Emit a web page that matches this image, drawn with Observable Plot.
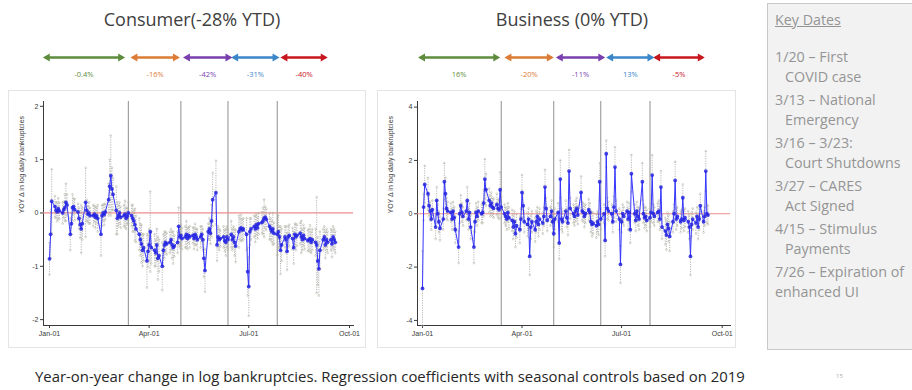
<!DOCTYPE html>
<html>
<head>
<meta charset="utf-8">
<script src="https://cdn.jsdelivr.net/npm/d3@7"></script>
<script src="https://cdn.jsdelivr.net/npm/@observablehq/plot@0.6"></script>
<style>
html,body{margin:0;padding:0;background:#fff;}
body{width:912px;height:390px;position:relative;overflow:hidden;font-family:"Open Sans",sans-serif;}
.abs{position:absolute;}
.title{font-size:18px;color:#404040;white-space:nowrap;transform:translateX(-50%);line-height:20px;}
.panel{background:#fff;box-shadow:inset 0 0 0 1px #e4e4e4;}
.key{left:767px;top:3px;width:170px;height:347px;background:#f2f2f2;border:1px solid #c9c9c9;box-sizing:border-box;padding:6px 0 0 7px;color:#959595;font-size:14.3px;line-height:20.5px;}
.key .hd{text-decoration:underline;margin-bottom:16px;}
.key .it{margin-bottom:2px;white-space:nowrap;}
.key .in{padding-left:10px;}
.caption{left:35px;top:366px;font-size:14.9px;color:#262626;white-space:nowrap;line-height:20px;}
.pg{left:836px;top:372px;font-size:6px;color:#aaa;}
</style>
</head>
<body>
<div class="abs title" style="left:192px;top:9px">Consumer(-28% YTD)</div>
<div class="abs title" style="left:572px;top:9px">Business (0% YTD)</div>
<div id="a1" class="abs" style="left:8px;top:45px"></div>
<div id="a2" class="abs" style="left:377px;top:45px"></div>
<div id="p1" class="abs panel" style="left:8px;top:90px;width:358px;height:258px"></div>
<div id="p2" class="abs panel" style="left:377px;top:90px;width:359px;height:258px"></div>
<div class="abs key">
  <div class="hd">Key Dates</div>
  <div class="it">1/20 – First<div class="in">COVID case</div></div>
  <div class="it">3/13 – National<div class="in">Emergency</div></div>
  <div class="it">3/16 – 3/23:<div class="in">Court Shutdowns</div></div>
  <div class="it">3/27 – CARES<div class="in">Act Signed</div></div>
  <div class="it">4/15 – Stimulus<div class="in">Payments</div></div>
  <div class="it">7/26 – Expiration of<div>enhanced UI</div></div>
</div>
<div class="abs caption">Year-on-year change in log bankruptcies. Regression coefficients with seasonal controls based on 2019</div>
<div class="abs pg">15</div>
<script>
// ---------- data (one value per weekday, Jan 1 2020 – Sep 18 2020) ----------
const consumerValues = [
  -0.86, -0.40, 0.22,
  0.12, 0.05, 0.02, 0.08, 0.04,
  0.00, 0.06, 0.10, 0.20, 0.15,
  -0.40, -0.20, 0.10, 0.12, 0.06,
  0.02, -0.10, -0.22, -0.30, -0.20,
  0.20, 0.05, -0.02, 0.00, -0.05,
  -0.05, -0.02, -0.08, -0.05, -0.10,
  -0.40, -0.05, 0.00, -0.03, 0.02,
  0.25, 0.50, 0.70, 0.45, 0.35,
  0.05, -0.10, -0.05, 0.00, -0.08,
  -0.05, -0.02, -0.10, -0.06, 0.00,
  -0.05, -0.10, -0.15, -0.22, -0.30,
  -0.40, -0.50, -0.58, -0.70, -0.65,
  -0.90, -0.72, -0.60, -0.35, -0.65,
  -0.70, -0.75, -0.60, -0.85, -0.80,
  -1.00, -0.70, -0.60, -0.55, -0.58,
  -0.55, -0.50, -0.60, -0.65, -0.62,
  -0.55, -0.25, -0.45, -0.42, -0.48,
  -0.45, -0.40, -0.48, -0.42, -0.45,
  -0.42, -0.48, -0.40, -0.45, -0.50,
  -0.45, -0.40, -0.50, -0.85, -1.08,
  -0.35, -0.30, -0.38, -0.15, 0.25,
  0.38, -0.60, -0.45, -0.50, -0.48,
  -0.45, -0.52, -0.55, -0.45, -0.50,
  -0.40, -0.50, -0.45, -0.55, -0.62,
  -0.35, -0.30, -0.28, -0.32, -0.30,
  -0.40, -1.10, -1.38, -0.35, -0.30,
  -0.25, -0.30, -0.22, -0.28, -0.20,
  -0.18, -0.15, -0.10, -0.08, -0.12,
  -0.25, -0.30, -0.35, -0.30, -0.38,
  -0.40, -0.35, -0.45, -0.70, -0.60,
  -0.45, -0.50, -0.72, -0.45, -0.42,
  -0.48, -0.65, -0.40, -0.45, -0.42,
  -0.38, -0.45, -0.50, -0.42, -0.48,
  -0.52, -0.50, -0.48, -0.55, -0.50,
  -0.55, -0.60, -0.90, -1.05, -0.70,
  -0.50, -0.45, -0.60, -0.50, -0.55,
  -0.50, -0.58, -0.45, -0.50, -0.55
];
const consumerErrors = [
  0.30, 0.45, 0.60,
  0.20, 0.15, 0.18, 0.20, 0.15,
  0.20, 0.15, 0.25, 0.35, 0.20,
  0.30, 0.20, 0.25, 0.15, 0.20,
  0.15, 0.20, 0.25, 0.45, 0.30,
  0.65, 0.20, 0.15, 0.20, 0.15,
  0.20, 0.15, 0.20, 0.15, 0.25,
  0.40, 0.20, 0.15, 0.20, 0.15,
  0.30, 0.50, 0.75, 0.40, 0.30,
  0.45, 0.30, 0.20, 0.20, 0.20,
  0.20, 0.25, 0.20, 0.15, 0.20,
  0.20, 0.25, 0.20, 0.30, 0.25,
  0.30, 0.30, 0.35, 0.30, 0.25,
  0.50, 0.30, 0.30, 0.75, 0.30,
  0.30, 0.25, 0.30, 0.40, 0.30,
  0.45, 0.30, 0.25, 0.20, 0.20,
  0.20, 0.20, 0.25, 0.30, 0.20,
  0.20, 0.35, 0.20, 0.20, 0.20,
  0.20, 0.25, 0.20, 0.15, 0.20,
  0.15, 0.20, 0.20, 0.15, 0.20,
  0.20, 0.15, 0.20, 0.35, 0.40,
  0.15, 0.20, 0.20, 0.30, 0.50,
  0.60, 0.30, 0.20, 0.20, 0.15,
  0.20, 0.20, 0.25, 0.20, 0.20,
  0.25, 0.20, 0.20, 0.25, 0.30,
  0.30, 0.20, 0.25, 0.20, 0.20,
  0.30, 0.45, 0.55, 0.25, 0.20,
  0.20, 0.25, 0.20, 0.20, 0.20,
  0.20, 0.25, 0.35, 0.20, 0.20,
  0.25, 0.20, 0.20, 0.30, 0.20,
  0.40, 0.30, 0.20, 0.45, 0.30,
  0.20, 0.25, 0.35, 0.20, 0.20,
  0.20, 0.30, 0.20, 0.25, 0.20,
  0.20, 0.30, 0.20, 0.20, 0.20,
  0.20, 0.20, 0.25, 0.20, 0.20,
  0.25, 0.90, 0.45, 0.50, 0.35,
  0.20, 0.20, 0.25, 0.20, 0.20,
  0.20, 0.25, 0.20, 0.20, 0.20
];
const businessValues = [
  -2.80, 0.25, 1.10,
  0.75, 0.30, 0.10, -0.20, 0.15,
  -0.50, 0.50, 0.00, -0.30, -0.55,
  -0.20, 1.20, 0.75, 0.20, 0.10,
  0.05, -0.20, 0.10, -0.15, -0.60,
  -1.25, 0.00, 0.30, 0.05, -0.10,
  0.10, 0.50, -0.20, 0.05, -0.50,
  -1.25, -0.30, 0.05, -0.10, 0.10,
  0.00, 0.05, 0.40, 1.30, 0.90,
  0.50, 0.30, 0.40, 0.25, 0.20,
  0.35, 0.20, 0.15, 0.90, 0.25,
  0.00, -0.10, -0.20, 0.05, -0.15,
  -0.25, -0.50, -0.30, -0.75, -0.45,
  -0.60, -0.20, 0.80, 0.30, -0.30,
  -0.40, -0.20, -1.60, -0.50, -0.30,
  -0.60, -0.30, -0.10, -0.40, -0.20,
  -0.35, -0.10, 1.00, 0.20, -0.25,
  -0.10, 0.10, -0.30, -0.75, -0.20,
  0.05, -1.10, 1.30, -0.20, -0.30,
  0.10, -0.15, -0.35, 1.60, 0.20,
  0.00, -0.10, 0.10, 0.20, -0.05,
  0.80, 0.10, 0.05, -0.10, 0.00,
  0.15, 0.05, -0.30, -0.40, -0.35,
  -0.45, -0.30, -0.40, 1.20, -0.20,
  0.00, -1.00, 2.25, 0.20, 0.10,
  0.00, -0.30, 0.25, 1.75, 0.10,
  -0.20, -1.90, -0.30, 0.00, -0.10,
  0.10, -0.20, 0.05, -0.60, 1.50,
  0.00, -0.25, 0.10, -0.10, -0.20,
  1.20, 0.00, -0.15, -0.10, -0.25,
  -0.15, 0.05, 1.45, 0.00, -0.10,
  0.05, 0.10, -0.20, 1.00, -0.50,
  -0.65, -0.80, -0.40, -0.55, -0.85,
  -0.30, 0.00, 1.25, -0.20, -0.10,
  -0.30, -0.20, 0.60, -0.25, -0.15,
  -0.30, -0.50, -1.60, -0.40, -0.20,
  -0.35, -0.10, -0.50, -0.20, 0.30,
  -0.30, -0.10, 1.60, 0.00, -0.05
];
const businessErrors = [
  1.40, 0.50, 0.70,
  0.60, 0.40, 0.35, 0.40, 0.35,
  0.45, 0.50, 0.35, 0.40, 0.45,
  0.40, 0.70, 0.60, 0.40, 0.35,
  0.35, 0.40, 0.35, 0.40, 0.50,
  0.60, 0.35, 0.40, 0.35, 0.35,
  0.35, 0.50, 0.40, 0.35, 0.45,
  0.60, 0.40, 0.35, 0.35, 0.35,
  0.35, 0.40, 0.50, 0.75, 0.60,
  0.45, 0.40, 0.40, 0.35, 0.35,
  0.40, 0.35, 0.35, 0.65, 0.40,
  0.35, 0.35, 0.40, 0.35, 0.40,
  0.40, 0.45, 0.40, 0.50, 0.45,
  0.50, 0.40, 0.65, 0.45, 0.40,
  0.45, 0.40, 0.70, 0.45, 0.40,
  0.45, 0.40, 0.35, 0.45, 0.40,
  0.40, 0.35, 0.65, 0.40, 0.40,
  0.35, 0.40, 0.40, 0.50, 0.40,
  0.35, 0.60, 0.70, 0.40, 0.40,
  0.40, 0.35, 0.45, 0.80, 0.40,
  0.35, 0.35, 0.40, 0.40, 0.35,
  0.60, 0.35, 0.35, 0.40, 0.35,
  0.40, 0.35, 0.40, 0.45, 0.40,
  0.45, 0.40, 0.40, 0.70, 0.40,
  0.35, 0.60, 0.50, 0.40, 0.35,
  0.35, 0.40, 0.40, 0.75, 0.40,
  0.40, 0.70, 0.40, 0.35, 0.35,
  0.35, 0.40, 0.35, 0.50, 0.70,
  0.35, 0.40, 0.35, 0.35, 0.40,
  0.70, 0.35, 0.40, 0.35, 0.40,
  0.35, 0.35, 0.75, 0.35, 0.35,
  0.35, 0.40, 0.40, 0.60, 0.45,
  0.50, 0.55, 0.45, 0.50, 0.55,
  0.40, 0.35, 0.70, 0.40, 0.35,
  0.40, 0.35, 0.50, 0.40, 0.35,
  0.40, 0.45, 0.70, 0.45, 0.40,
  0.40, 0.35, 0.45, 0.40, 0.45,
  0.40, 0.35, 0.75, 0.35, 0.35
];
const breakDates = ["2020-03-13", "2020-04-30", "2020-06-12", "2020-07-27"];
const xTickDates = ["2020-01-01", "2020-04-01", "2020-07-01", "2020-10-01"];
const consumerYTicks = [-2, -1, 0, 1, 2];
const businessYTicks = [-4, -2, 0, 2, 4];
const arrowColors = ["#5e8c3c", "#dc7c36", "#7a3fae", "#3a86c8", "#c8161e"];
const consumerArrowLabels = ["-0.4%", "-16%", "-42%", "-31%", "-40%"];
const consumerArrowStart = ["2019-12-28", "2020-03-17", "2020-05-04", "2020-06-17", "2020-08-01"];
const consumerArrowEnd   = ["2020-03-08", "2020-04-27", "2020-06-14", "2020-07-27", "2020-09-09"];
const businessArrowLabels = ["16%", "-20%", "-11%", "13%", "-5%"];
const businessArrowStart = ["2019-12-30", "2020-03-18", "2020-05-04", "2020-06-19", "2020-08-01"];
const businessArrowEnd   = ["2020-03-10", "2020-04-28", "2020-06-14", "2020-07-29", "2020-09-13"];
const yLabel = "YOY Δ in log daily bankruptcies";

// ---------- helpers ----------
const parse = d3.utcParse("%Y-%m-%d");
const DAY = 864e5;
const weekdays = d3.utcDays(parse("2020-01-01"), parse("2020-09-19"))
  .filter(d => d.getUTCDay() !== 0 && d.getUTCDay() !== 6);

const triRight = {draw(ctx, size) { const s = Math.sqrt(size);
  ctx.moveTo(0.8 * s, 0); ctx.lineTo(-0.5 * s, -0.75 * s); ctx.lineTo(-0.5 * s, 0.75 * s); ctx.closePath(); }};
const triLeft = {draw(ctx, size) { const s = Math.sqrt(size);
  ctx.moveTo(-0.8 * s, 0); ctx.lineTo(0.5 * s, -0.75 * s); ctx.lineTo(0.5 * s, 0.75 * s); ctx.closePath(); }};

const cfgConsumer = {width: 358, ml: 35, mr: 13,
  xDomain: [new Date(+parse("2020-01-01") - 5.48 * DAY), new Date(+parse("2020-10-01") + 3.65 * DAY)],
  yDomain: [-2.11, 2.09], yTicks: consumerYTicks, labelDx: -22};
const cfgBusiness = {width: 359, ml: 40, mr: 6,
  xDomain: [new Date(+parse("2020-01-01") - 4.57 * DAY), new Date(+parse("2020-10-01") + 7.6 * DAY)],
  yDomain: [-4.19, 4.21], yTicks: businessYTicks, labelDx: -27};

function panel(values, errors, cfg) {
  const data = weekdays.map((date, i) => ({date, v: values[i], lo: values[i] - errors[i], hi: values[i] + errors[i]}));
  return Plot.plot({
    width: cfg.width, height: 258,
    marginTop: 11, marginBottom: 23, marginLeft: cfg.ml, marginRight: cfg.mr,
    style: {fontFamily: "'Liberation Sans', Arial, sans-serif", fontSize: "7px", color: "#3a3a3a", background: "transparent", overflow: "visible"},
    x: {type: "utc", domain: cfg.xDomain, ticks: xTickDates.map(parse), tickFormat: d3.utcFormat("%b-%d"),
        tickSize: 3, tickPadding: 3, line: true, label: null},
    y: {domain: cfg.yDomain, ticks: cfg.yTicks, tickFormat: d => String(d), tickSize: 3, tickPadding: 2, line: true, label: null},
    marks: [
      Plot.ruleX(breakDates.map(parse), {stroke: "#8f8f8f", strokeWidth: 1}),
      Plot.ruleY([0], {stroke: "#f08c8c", strokeWidth: 1.2}),
      Plot.ruleX(data, {x: "date", y1: "lo", y2: "hi", stroke: "#9a9a9a", strokeWidth: 0.7, strokeDasharray: "1.2,1.2"}),
      Plot.dot(data, {x: "date", y: "lo", r: 0.9, stroke: "#b4b4a4", strokeWidth: 0.5}),
      Plot.dot(data, {x: "date", y: "hi", r: 0.9, stroke: "#b4b4a4", strokeWidth: 0.5}),
      Plot.line(data, {x: "date", y: "v", stroke: "#3535ff", strokeWidth: 1}),
      Plot.dot(data, {x: "date", y: "v", r: 1.9, fill: "#2424e0", fillOpacity: 0.85, stroke: "none"}),
      Plot.text([yLabel], {frameAnchor: "left", text: d => d, rotate: -90, dx: cfg.labelDx, fill: "#3a3a3a", fontSize: 7})
    ]
  });
}

function arrows(starts, ends, labels, cfg) {
  const data = starts.map((s, i) => ({
    x1: parse(s), x2: parse(ends[i]), label: labels[i], color: arrowColors[i],
    mid: new Date((+parse(s) + +parse(ends[i])) / 2), y: 1, ly: 0
  }));
  return Plot.plot({
    width: cfg.width, height: 40, marginTop: 0, marginBottom: 0, marginLeft: cfg.ml, marginRight: cfg.mr,
    style: {fontFamily: "'Open Sans', sans-serif", fontSize: "7.5px", background: "transparent", overflow: "visible"},
    x: {type: "utc", domain: cfg.xDomain, axis: null},
    y: {domain: [0, 1], range: [29, 12], axis: null},
    color: {type: "identity"},
    marks: [
      Plot.link(data, {x1: "x1", x2: "x2", y1: "y", y2: "y", stroke: "color", strokeWidth: 2.4}),
      Plot.dot(data, {x: "x1", y: "y", symbol: triLeft, r: 3, fill: "color", stroke: "none", dx: 2}),
      Plot.dot(data, {x: "x2", y: "y", symbol: triRight, r: 3, fill: "color", stroke: "none", dx: -2}),
      Plot.text(data, {x: "mid", y: "ly", text: "label", fill: "color"})
    ]
  });
}

document.getElementById("p1").append(panel(consumerValues, consumerErrors, cfgConsumer));
document.getElementById("p2").append(panel(businessValues, businessErrors, cfgBusiness));
document.getElementById("a1").append(arrows(consumerArrowStart, consumerArrowEnd, consumerArrowLabels, cfgConsumer));
document.getElementById("a2").append(arrows(businessArrowStart, businessArrowEnd, businessArrowLabels, cfgBusiness));
</script>
</body>
</html>
